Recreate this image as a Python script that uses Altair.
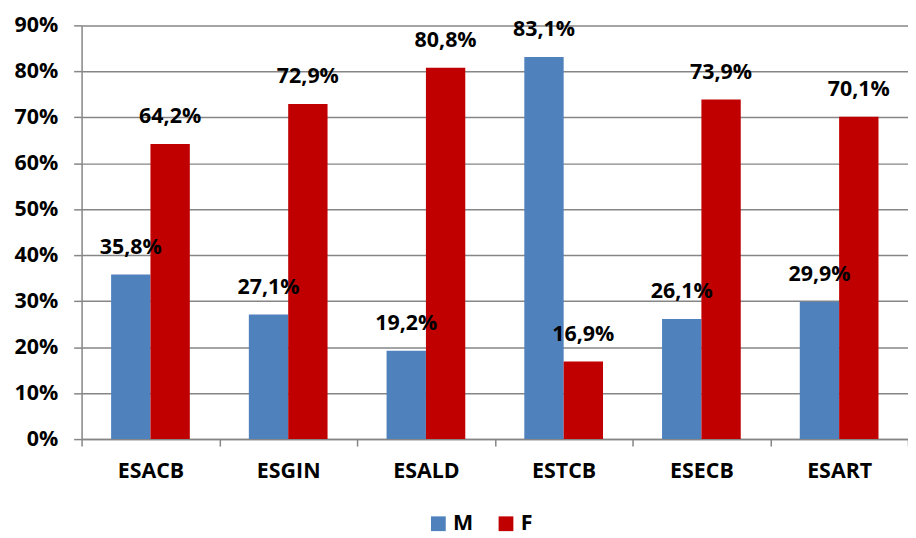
import altair as alt
import pandas as pd

categories = ["ESACB", "ESGIN", "ESALD", "ESTCB", "ESECB", "ESART"]
m_values = [0.358, 0.271, 0.192, 0.831, 0.261, 0.299]
f_values = [0.642, 0.729, 0.808, 0.169, 0.739, 0.701]
series = ["M", "F"]
colors = ["#4F81BD", "#C00000"]

rows = []
for c, m, f in zip(categories, m_values, f_values):
    for s, v in (("M", m), ("F", f)):
        rows.append({"cat": c, "sex": s, "value": v,
                     "label": f"{v*100:.1f}%".replace(".", ",")})
df = pd.DataFrame(rows)

FONT = "Open Sans"
FS = 21.5

x = alt.X("cat:N", sort=categories, title=None,
          scale=alt.Scale(paddingInner=0, paddingOuter=0),
          axis=alt.Axis(tickBand="extent", labelAngle=0, labelFontSize=FS,
                        labelFontWeight="bold", labelFont=FONT, labelColor="#000000",
                        labelPadding=15, tickSize=7, tickColor="#868686",
                        domainColor="#868686", domainWidth=1.5, tickWidth=1.5))
xo = alt.XOffset("sex:N", sort=series,
                 scale=alt.Scale(paddingInner=0, paddingOuter=0.75))
y = alt.Y("value:Q", title=None,
          scale=alt.Scale(domain=[0, 0.9], nice=False),
          axis=alt.Axis(format=".0%", values=[i / 10 for i in range(10)],
                        labelFontSize=FS, labelFontWeight="bold", labelFont=FONT,
                        labelColor="#000000", labelPadding=16, tickSize=8,
                        tickColor="#868686", domainColor="#868686", domainWidth=1.5,
                        gridColor="#868686", gridWidth=1.5, tickWidth=1.5))
color = alt.Color("sex:N", sort=series,
                  scale=alt.Scale(domain=series, range=colors),
                  legend=alt.Legend(title=None, orient="none", direction="horizontal",
                                    legendX=348, legendY=490, symbolType="square",
                                    symbolSize=220, symbolStrokeWidth=0,
                                    labelFontSize=FS, labelFontWeight="bold",
                                    labelFont=FONT, labelColor="#000000",
                                    columnPadding=22, symbolOpacity=1))

bars = alt.Chart(df).mark_bar(opacity=1).encode(x=x, xOffset=xo, y=y, color=color)
labels = alt.Chart(df).mark_text(
    baseline="alphabetic", dy=-21, fontSize=FS, fontWeight="bold", font=FONT,
    color="#000000").encode(x=x, xOffset=xo, y=y, text="label:N")

chart = (bars + labels).properties(
    width=831, height=416,
    autosize=alt.AutoSizeParams(type="none"),
    padding={"left": 74, "top": 16, "right": 0, "bottom": 104},
).configure_view(stroke=None).configure_axis(grid=False).configure_axisY(grid=True)

chart.save("out.html", embed_options={"renderer": "svg", "actions": False})
